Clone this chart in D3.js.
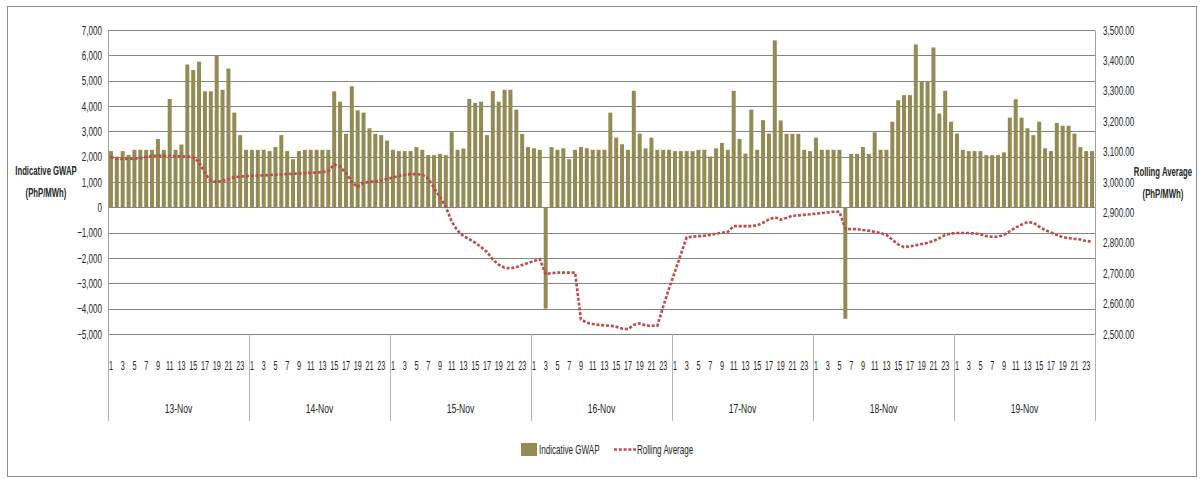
<!DOCTYPE html>
<html>
<head>
<meta charset="utf-8">
<script src="https://cdn.jsdelivr.net/npm/d3@7"></script>
<style>
  body { margin: 0; background: #fff; }
  text { font-family: "Liberation Sans", Arial, sans-serif; fill: #262626; }
</style>
</head>
<body>
<svg id="chart" width="1204" height="479"></svg>
<script>
// Days and hours on the category axis
const days = ["13-Nov", "14-Nov", "15-Nov", "16-Nov", "17-Nov", "18-Nov", "19-Nov"];
const hours = ["1", "2", "3", "4", "5", "6", "7", "8", "9", "10", "11", "12",
               "13", "14", "15", "16", "17", "18", "19", "20", "21", "22", "23", "24"];

// Indicative GWAP (PhP/MWh), one array per day
const gwap13 = [2220, 2000, 2220, 2070, 2270, 2270, 2270, 2270, 2700, 2270, 4280, 2270, 2480, 5640, 5420, 5750, 4580, 4580, 5980, 4640, 5480, 3740, 2850, 2270];
const gwap14 = [2270, 2270, 2270, 2220, 2380, 2850, 2220, 1900, 2220, 2270, 2270, 2270, 2270, 2270, 4580, 4170, 2900, 4780, 3830, 3740, 3120, 2900, 2850, 2640];
const gwap15 = [2270, 2220, 2220, 2220, 2380, 2270, 2060, 2060, 2110, 2060, 2970, 2270, 2320, 4280, 4120, 4170, 2850, 4590, 4170, 4640, 4640, 3860, 2900, 2380];
const gwap16 = [2330, 2270, -4000, 2380, 2270, 2330, 1900, 2270, 2380, 2330, 2270, 2270, 2270, 3740, 2750, 2490, 2270, 4600, 2910, 2330, 2750, 2270, 2270, 2270];
const gwap17 = [2220, 2220, 2220, 2220, 2270, 2270, 2010, 2330, 2540, 2270, 4600, 2700, 2120, 3860, 2270, 3440, 2910, 6590, 3430, 2900, 2900, 2900, 2270, 2220];
const gwap18 = [2750, 2270, 2270, 2270, 2270, -4400, 2110, 2110, 2380, 2110, 2960, 2270, 2270, 3380, 4230, 4430, 4430, 6430, 4980, 4980, 6310, 3700, 4600, 3380];
const gwap19 = [2910, 2270, 2220, 2220, 2220, 2060, 2060, 2060, 2170, 3540, 4270, 3540, 3120, 2850, 3380, 2330, 2220, 3330, 3220, 3220, 2910, 2380, 2220, 2220];

// Rolling average (PhP/MWh), one array per day
const roll13 = [3082, 3076, 3076, 3076, 3077, 3078, 3082, 3085, 3086, 3086, 3086, 3085, 3084, 3083, 3082, 3065, 3030, 3003, 3000, 3003, 3010, 3016, 3018, 3019];
const roll14 = [3020, 3021, 3022, 3023, 3024, 3025, 3026, 3027, 3028, 3029, 3030, 3031, 3033, 3036, 3058, 3050, 3030, 3000, 2983, 2998, 3000, 3002, 3005, 3010];
const roll15 = [3015, 3020, 3024, 3026, 3026, 3024, 3012, 2980, 2950, 2918, 2870, 2840, 2822, 2812, 2800, 2786, 2770, 2745, 2728, 2718, 2716, 2720, 2727, 2734];
const roll16 = [2740, 2746, 2697, 2700, 2702, 2702, 2702, 2702, 2548, 2537, 2533, 2530, 2528, 2527, 2524, 2518, 2516, 2530, 2535, 2528, 2527, 2527, 2590, 2650];
const roll17 = [2705, 2762, 2818, 2820, 2822, 2823, 2826, 2830, 2833, 2836, 2855, 2855, 2855, 2855, 2857, 2866, 2877, 2884, 2876, 2882, 2889, 2890, 2892, 2894];
const roll18 = [2896, 2898, 2900, 2902, 2902, 2846, 2845, 2845, 2842, 2840, 2836, 2832, 2826, 2810, 2795, 2786, 2788, 2792, 2796, 2800, 2806, 2815, 2826, 2831];
const roll19 = [2832, 2832, 2832, 2831, 2828, 2822, 2820, 2820, 2826, 2838, 2850, 2860, 2868, 2866, 2853, 2842, 2834, 2826, 2818, 2816, 2813, 2811, 2806, 2804];

// Tick values
const leftTicks = [-5000, -4000, -3000, -2000, -1000, 0, 1000, 2000, 3000, 4000, 5000, 6000, 7000];
const rightTicks = [2500, 2600, 2700, 2800, 2900, 3000, 3100, 3200, 3300, 3400, 3500];
const hourLabels = ["1", "3", "5", "7", "9", "11", "13", "15", "17", "19", "21", "23"];

const gwap = [].concat(gwap13, gwap14, gwap15, gwap16, gwap17, gwap18, gwap19);
const rolling = [].concat(roll13, roll14, roll15, roll16, roll17, roll18, roll19);
const slots = [];
days.forEach(d => hours.forEach(h => slots.push(d + " " + h)));

const plotLeft = 108, plotRight = 1095, plotTop = 30, plotBottom = 334;
const squeeze = 0.62;  // the reference text is very condensed

// squeeze text horizontally around its own x anchor
function narrow(sel, s) {
    sel.each(function () {
        const t = d3.select(this);
        const x0 = +t.attr("x") || 0;
        t.attr("transform", `translate(${x0 * (1 - s)},0) scale(${s},1)`);
    });
}

const svg = d3.select("#chart");

// Outer chart border
svg.append("rect")
    .attr("x", 7.5).attr("y", 6.5)
    .attr("width", 1189).attr("height", 470)
    .attr("fill", "none")
    .attr("stroke", "#8c8c8c");

const x = d3.scaleBand().domain(slots).range([plotLeft, plotRight]).paddingInner(0.32).paddingOuter(0.16);
const xDay = d3.scaleBand().domain(days).range([plotLeft, plotRight]);
const yL = d3.scaleLinear().domain([-5000, 7000]).range([plotBottom, plotTop]);
const yR = d3.scaleLinear().domain([2500, 3500]).range([plotBottom, plotTop]);

// Gridlines
svg.append("g")
    .selectAll("line")
    .data(leftTicks)
    .enter().append("line")
    .attr("x1", plotLeft).attr("x2", plotRight)
    .attr("y1", d => Math.round(yL(d)) + 0.5)
    .attr("y2", d => Math.round(yL(d)) + 0.5)
    .attr("stroke", "#858585")
    .attr("stroke-width", 1);

// Left axis
const axL = svg.append("g")
    .attr("transform", `translate(${plotLeft},0)`)
    .call(d3.axisLeft(yL).tickValues(leftTicks).tickFormat(d3.format(",")).tickSize(0).tickPadding(6));
axL.select(".domain").attr("stroke", "#a0a0a0");
axL.selectAll("text").style("font-size", "13px").attr("fill", "#262626").call(narrow, squeeze);

// Right axis
const axR = svg.append("g")
    .attr("transform", `translate(${plotRight},0)`)
    .call(d3.axisRight(yR).tickValues(rightTicks).tickFormat(d3.format(",.2f")).tickSize(0).tickPadding(8));
axR.select(".domain").attr("stroke", "#a0a0a0");
axR.selectAll("text").style("font-size", "13px").attr("fill", "#262626").call(narrow, squeeze);

// Bars
svg.append("g")
    .selectAll("rect")
    .data(gwap)
    .enter().append("rect")
    .attr("x", (d, i) => x(slots[i]))
    .attr("width", x.bandwidth())
    .attr("y", d => yL(Math.max(0, d)))
    .attr("height", d => Math.abs(yL(d) - yL(0)))
    .attr("fill", "#948a54");

// Rolling average line
const line = d3.line()
    .x((d, i) => x(slots[i]) + x.bandwidth() / 2)
    .y(d => yR(d));

svg.append("path")
    .datum(rolling)
    .attr("d", line)
    .attr("fill", "none")
    .attr("stroke", "#be4b48")
    .attr("stroke-width", 2.6)
    .attr("stroke-dasharray", "3,1.8");

// Category axis: hours
const hourIdx = slots.filter((s, i) => i % 2 === 0);
svg.append("g")
    .selectAll("text")
    .data(hourIdx)
    .enter().append("text")
    .attr("x", d => x(d) + x.bandwidth() / 2)
    .attr("y", 370)
    .attr("text-anchor", "middle")
    .style("font-size", "13px")
    .text((d, i) => hourLabels[i % 12])
    .call(narrow, 0.56);

// Day separators and labels
svg.append("g")
    .selectAll("line")
    .data(days.concat(["end"]))
    .enter().append("line")
    .attr("x1", (d, i) => Math.round(i < days.length ? xDay(d) : plotRight) + 0.5)
    .attr("x2", (d, i) => Math.round(i < days.length ? xDay(d) : plotRight) + 0.5)
    .attr("y1", plotBottom)
    .attr("y2", 421)
    .attr("stroke", "#b4b4b4");

svg.append("g")
    .selectAll("text")
    .data(days)
    .enter().append("text")
    .attr("x", d => xDay(d) + xDay.bandwidth() / 2)
    .attr("y", 413)
    .attr("text-anchor", "middle")
    .style("font-size", "13px")
    .text(d => d)
    .call(narrow, 0.66);

// Axis titles
const titleL = svg.append("text")
    .attr("x", 46).attr("y", 175)
    .attr("text-anchor", "middle")
    .style("font-size", "12.5px")
    .style("font-weight", "bold");
titleL.append("tspan").attr("x", 46).text("Indicative GWAP");
titleL.append("tspan").attr("x", 46).attr("dy", 22).text("(PhP/MWh)");
titleL.call(narrow, squeeze);

const titleR = svg.append("text")
    .attr("x", 1163).attr("y", 176)
    .attr("text-anchor", "middle")
    .style("font-size", "12.5px")
    .style("font-weight", "bold");
titleR.append("tspan").attr("x", 1163).text("Rolling Average");
titleR.append("tspan").attr("x", 1163).attr("dy", 22).text("(PhP/MWh)");
titleR.call(narrow, squeeze);

// Legend
const legend = svg.append("g");
legend.append("rect")
    .attr("x", 521).attr("y", 443)
    .attr("width", 16).attr("height", 13)
    .attr("fill", "#948a54");
legend.append("text")
    .attr("x", 539).attr("y", 454)
    .style("font-size", "13px")
    .text("Indicative GWAP")
    .call(narrow, squeeze);
legend.append("line")
    .attr("x1", 614).attr("x2", 636)
    .attr("y1", 449.5).attr("y2", 449.5)
    .attr("stroke", "#be4b48")
    .attr("stroke-width", 2.6)
    .attr("stroke-dasharray", "3,1.8");
legend.append("text")
    .attr("x", 637).attr("y", 454)
    .style("font-size", "13px")
    .text("Rolling Average")
    .call(narrow, squeeze);
</script>
</body>
</html>
